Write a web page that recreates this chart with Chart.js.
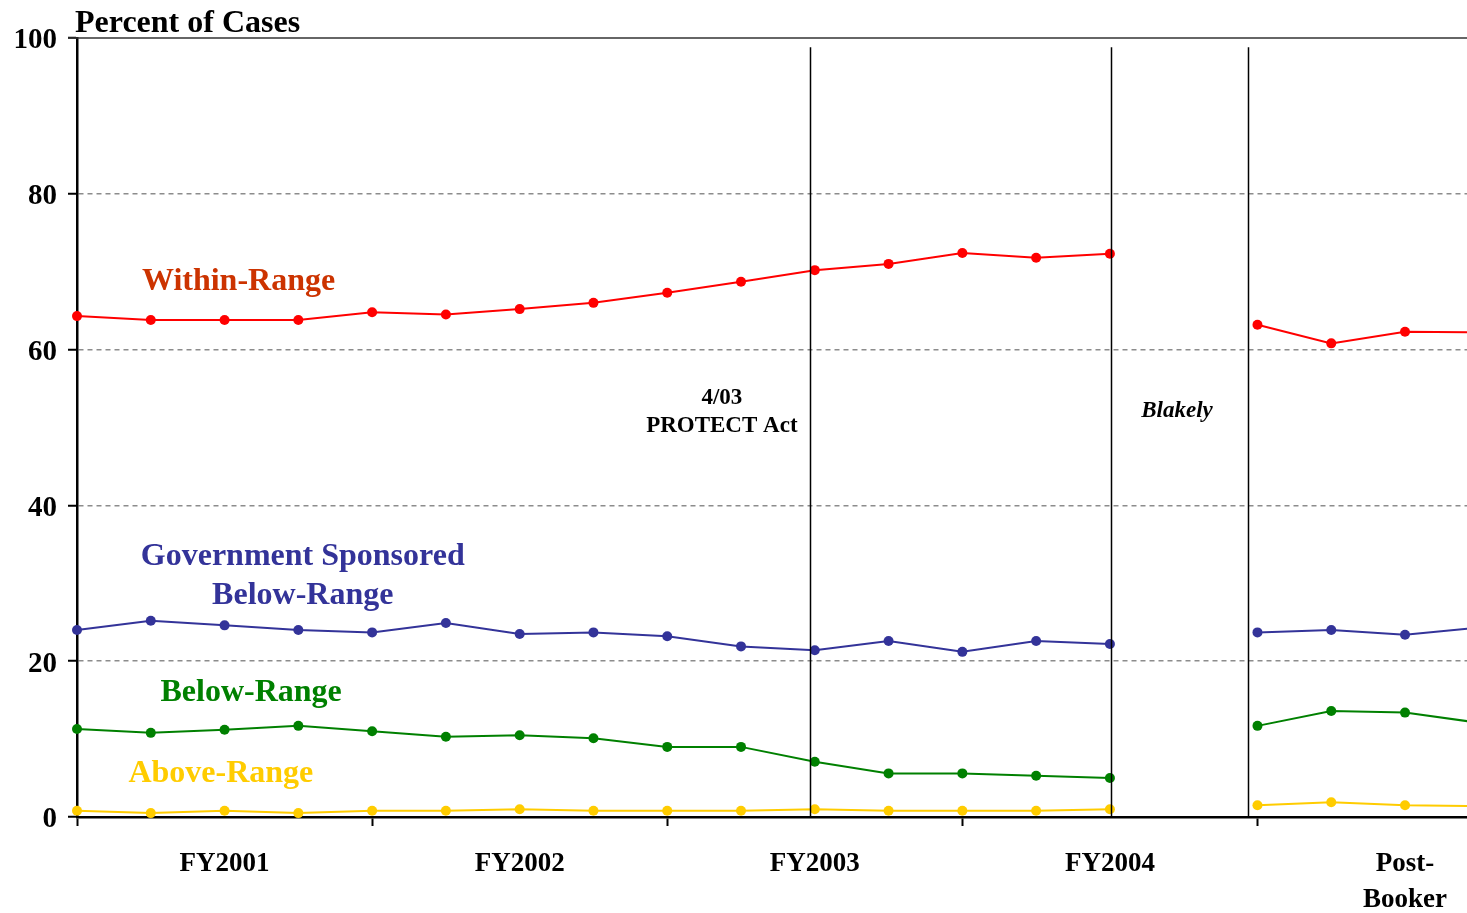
<!DOCTYPE html>
<html>
<head>
<meta charset="utf-8">
<script src="https://cdn.jsdelivr.net/npm/chart.js@4.4.1/dist/chart.umd.min.js"></script>
<style>
  html, body { margin: 0; padding: 0; background: #fff; }
  #wrap { width: 1467px; height: 913px; position: relative; }
</style>
</head>
<body>
<div id="wrap"><canvas id="myChart"></canvas></div>
<script>
// Quarters FY2001..FY2004, a gap (Blakely), then Post-Booker quarters
// index 15 is the empty Blakely quarter; 19 runs off the right edge
const withinRange = [64.3, 63.8, 63.8, 63.8, 64.8, 64.5, 65.2, 66.0, 67.3, 68.7, 70.2, 71.0, 72.4, 71.8, 72.3,
                     null, 63.2, 60.8, 62.3, 62.2];
const govBelow    = [24.0, 25.2, 24.6, 24.0, 23.7, 24.9, 23.5, 23.7, 23.2, 21.9, 21.4, 22.6, 21.2, 22.6, 22.2,
                     null, 23.7, 24.0, 23.4, 24.3];
const belowRange  = [11.3, 10.8, 11.2, 11.7, 11.0, 10.3, 10.5, 10.1, 9.0, 9.0, 7.1, 5.6, 5.6, 5.3, 5.0,
                     null, 11.7, 13.6, 13.4, 12.1];
const aboveRange  = [0.8, 0.5, 0.8, 0.5, 0.8, 0.8, 1.0, 0.8, 0.8, 0.8, 1.0, 0.8, 0.8, 0.8, 1.0,
                     null, 1.5, 1.9, 1.5, 1.4];

// x-axis: labels sit mid-year, tick marks at year boundaries
const yearLabels = { 2: 'FY2001', 6: 'FY2002', 10: 'FY2003', 14: 'FY2004', 18: ['Post-', 'Booker'] };
const yearTicks = [0, 4, 8, 12, 16];
const yTicks = [0, 20, 40, 60, 80, 100];

// event markers (in quarter units)
const eventLines = [9.93, 14.02, 15.87];

const SERIF = '"Liberation Serif", "Times New Roman", serif';

function toXY(arr) {
  return arr.map((v, i) => ({ x: i, y: v }));
}

function series(label, data, color) {
  return {
    label: label,
    data: toXY(data),
    borderColor: color,
    backgroundColor: color,
    borderWidth: 2,
    pointRadius: 5,
    pointBorderWidth: 0,
    pointHoverRadius: 5,
    spanGaps: false,
    tension: 0,
    clip: false
  };
}

// text labels drawn on the plot, in data coordinates
const plotTexts = [
  { text: 'Within-Range', x: 2.19, y: 68.7, color: '#CC3300', size: 32, style: 'bold' },
  { text: 'Government Sponsored', x: 3.06, y: 33.4, color: '#333399', size: 32, style: 'bold' },
  { text: 'Below-Range', x: 3.06, y: 28.4, color: '#333399', size: 32, style: 'bold' },
  { text: 'Below-Range', x: 2.36, y: 16.0, color: '#008000', size: 32, style: 'bold' },
  { text: 'Above-Range', x: 1.95, y: 5.5, color: '#FFCC00', size: 32, style: 'bold' },
  { text: '4/03', x: 8.74, y: 53.8, color: '#000', size: 23, style: 'bold' },
  { text: 'PROTECT Act', x: 8.74, y: 50.2, color: '#000', size: 23, style: 'bold' },
  { text: 'Blakely', x: 14.91, y: 52.1, color: '#000', size: 23, style: 'italic bold' }
];

const decorations = {
  id: 'decorations',
  afterDatasetsDraw(chart) {
    const ctx = chart.ctx;
    const xs = chart.scales.x, ys = chart.scales.y;
    const area = chart.chartArea;
    ctx.save();

    // solid top rule at 100
    ctx.strokeStyle = '#333';
    ctx.lineWidth = 1.5;
    ctx.beginPath();
    ctx.moveTo(area.left - 9, area.top);
    ctx.lineTo(area.right, area.top);
    ctx.stroke();

    // event lines
    ctx.strokeStyle = '#000';
    ctx.lineWidth = 1.5;
    eventLines.forEach(v => {
      const px = Math.round(xs.getPixelForValue(v)) + 0.5;
      ctx.beginPath();
      ctx.moveTo(px, ys.getPixelForValue(98.8));
      ctx.lineTo(px, ys.getPixelForValue(0));
      ctx.stroke();
    });

    // text labels
    ctx.textAlign = 'center';
    ctx.textBaseline = 'middle';
    plotTexts.forEach(t => {
      ctx.font = t.style + ' ' + t.size + 'px ' + SERIF;
      ctx.fillStyle = t.color;
      ctx.fillText(t.text, xs.getPixelForValue(t.x), ys.getPixelForValue(t.y));
    });

    // axis title
    ctx.textAlign = 'left';
    ctx.textBaseline = 'alphabetic';
    ctx.font = 'bold 32px ' + SERIF;
    ctx.fillStyle = '#000';
    ctx.fillText('Percent of Cases', 75, 32);

    ctx.restore();
  }
};

let ctx = document.getElementById('myChart').getContext('2d');
let myChart = new Chart(ctx, {
  type: 'line',
  data: {
    datasets: [
      series('Within-Range', withinRange, '#FF0000'),
      series('Government Sponsored Below-Range', govBelow, '#333399'),
      series('Below-Range', belowRange, '#008000'),
      series('Above-Range', aboveRange, '#FFCC00')
    ]
  },
  options: {
    responsive: true,
    maintainAspectRatio: false,
    animation: false,
    layout: { autoPadding: false, padding: { top: 38, left: 0, right: 0, bottom: 0 } },
    plugins: {
      legend: { display: false },
      title: { display: false },
      tooltip: { enabled: false }
    },
    scales: {
      x: {
        type: 'linear',
        min: 0,
        max: 18.84,
        afterBuildTicks: scale => {
          scale.ticks = [0, 2, 4, 6, 8, 10, 12, 14, 16, 18].map(v => ({ value: v }));
        },
        afterFit: scale => {
          scale.height = 96;
          scale.paddingLeft = 0;
          scale.paddingRight = 0;
        },
        ticks: {
          autoSkip: false,
          maxRotation: 0,
          padding: 20,
          color: '#000',
          font: { family: SERIF, size: 27, weight: 'bold', lineHeight: 1.33 },
          callback: v => yearLabels[v] || ''
        },
        grid: {
          drawOnChartArea: false,
          tickLength: 9,
          tickWidth: 2,
          tickColor: c => (c.tick && yearTicks.includes(c.tick.value)) ? '#000' : 'rgba(0,0,0,0)'
        },
        border: { color: '#000', width: 2.5 }
      },
      y: {
        min: 0,
        max: 100,
        afterBuildTicks: scale => {
          scale.ticks = yTicks.map(v => ({ value: v }));
        },
        afterFit: scale => {
          scale.width = 77;
          scale.paddingTop = 0;
          scale.paddingBottom = 0;
        },
        ticks: {
          padding: 11,
          labelOffset: 3,
          color: '#000',
          font: { family: SERIF, size: 29, weight: 'bold' }
        },
        grid: {
          color: c => (c.tick && (c.tick.value === 0 || c.tick.value === 100)) ? 'rgba(0,0,0,0)' : '#8c8c8c',
          lineWidth: 1.5,
          tickLength: 9,
          tickWidth: 2,
          tickColor: '#000',
          tickBorderDash: []
        },
        border: { color: '#000', width: 2.5, dash: [5, 4] }
      }
    }
  },
  plugins: [decorations]
});
</script>
</body>
</html>
